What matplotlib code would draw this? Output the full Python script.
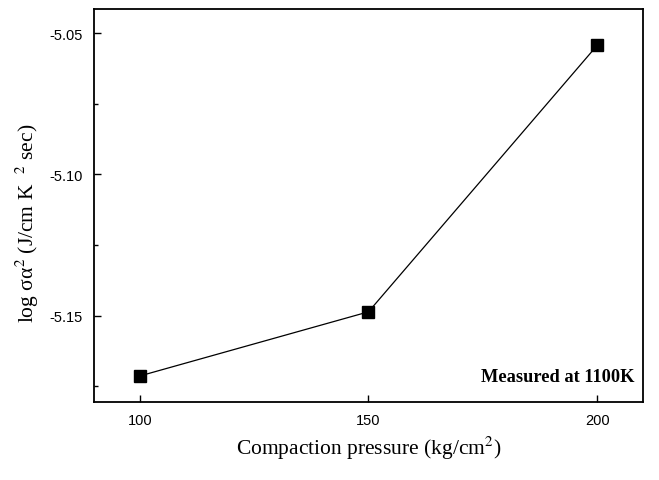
import matplotlib
matplotlib.use('Agg')
import matplotlib.pyplot as plt
from matplotlib.ticker import MultipleLocator, FormatStrFormatter

# data
pressure = [100, 150, 200]
log_pf = [-5.1713, -5.1486, -5.0543]
xticks = [100, 150, 200]
yticks = [-5.15, -5.10, -5.05]

plt.rcParams['axes.unicode_minus'] = False
plt.rcParams['mathtext.fontset'] = 'stix'

fig = plt.figure(figsize=(6.59, 4.81), dpi=100)
ax = fig.add_axes([0.1426, 0.1622, 0.8331, 0.8168])

ax.plot(pressure, log_pf, color='black', lw=0.9, marker='s', markersize=8.5,
        markerfacecolor='black', markeredgecolor='black')

ax.set_xlim(90, 210)
ax.set_ylim(-5.1805, -5.0415)
ax.set_xticks(xticks)
ax.set_yticks(yticks)
ax.yaxis.set_minor_locator(MultipleLocator(0.025))
ax.yaxis.set_major_formatter(FormatStrFormatter('%.2f'))

ax.tick_params(direction='in', length=5, width=1, labelsize=10.5, pad=8)
ax.tick_params(which='minor', direction='in', length=3, width=1)
for lab in ax.get_xticklabels() + ax.get_yticklabels():
    lab.set_family('Liberation Sans')
for sp in ax.spines.values():
    sp.set_linewidth(1.3)

ax.set_xlabel('Compaction pressure (kg/cm$^2$)', family='Liberation Serif',
              fontsize=15.5, labelpad=5)
ax.set_ylabel('log σα$^2$ (J/cm K  $^2$ sec)', family='Liberation Serif',
              fontsize=15.5)
ax.yaxis.set_label_coords(-0.097, 0.458)

ax.text(0.985, 0.066, 'Measured at 1100K', transform=ax.transAxes,
        ha='right', va='center', family='Liberation Serif', fontweight='bold',
        fontsize=13.2)

fig.savefig('out.png', dpi=100)
